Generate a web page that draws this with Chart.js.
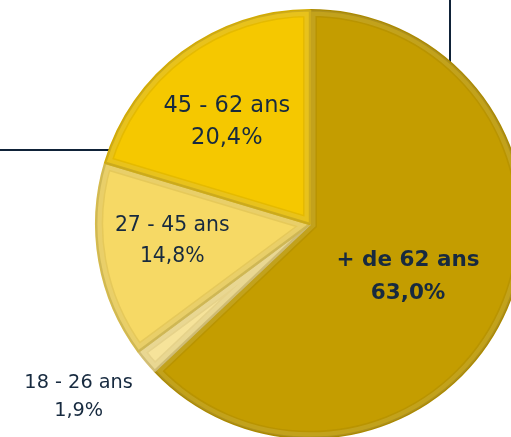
<!DOCTYPE html>
<html>
<head>
<meta charset="utf-8">
<script src="https://cdn.jsdelivr.net/npm/chart.js@4"></script>
<style>
  html, body { margin: 0; padding: 0; overflow: hidden; background: #fff; width: 511px; height: 437px; }
  #wrap { position: absolute; left: 0; top: 0; width: 640px; height: 460px; }
</style>
</head>
<body>
<div id="wrap"><canvas id="myChart"></canvas></div>
<script>
// data
const ageGroups = ['+ de 62 ans', '18 - 26 ans', '27 - 45 ans', '45 - 62 ans'];
const shares = [63.0, 1.9, 14.8, 20.4];
const shareLabels = ['63,0%', '1,9%', '14,8%', '20,4%'];

const sliceColors = ['#c49d00', '#f6e39a', '#f6d965', '#f5c800'];
const sliceBorders = ['#ab8900', '#d6c175', '#d6bb4c', '#d3ab00'];

// label spot: fraction of radius along mid angle, plus a nudge
const labelSpots = [
  { r: 0.52, dx: -4, dy: 9, size: 21.5, gap: 33, bold: true },
  { r: 1.34, dx: -12, dy: -11, size: 19.3, gap: 28, bold: false },
  { r: 0.64, dx: -3, dy: -7, size: 20.4, gap: 31, bold: false },
  { r: 0.62, dx: -4, dy: 4, size: 22.5, gap: 32, bold: false }
];

// soft bevel along the edge of each slice
const bevelPlugin = {
  id: 'bevel',
  afterDatasetsDraw(chart) {
    const ctx = chart.ctx;
    const arcs = chart.getDatasetMeta(0).data;
    arcs.forEach((arc) => {
      const p = arc.getProps(['x', 'y', 'startAngle', 'endAngle', 'outerRadius'], true);
      ctx.save();
      ctx.beginPath();
      ctx.moveTo(p.x, p.y);
      ctx.arc(p.x, p.y, p.outerRadius, p.startAngle, p.endAngle);
      ctx.closePath();
      ctx.clip();
      ctx.lineJoin = 'miter';
      ctx.lineWidth = 14;
      ctx.strokeStyle = 'rgba(90,70,0,0.10)';
      ctx.stroke();
      ctx.lineWidth = 11;
      ctx.strokeStyle = 'rgba(255,250,200,0.14)';
      ctx.stroke();
      ctx.restore();
    });
  }
};

const labelPlugin = {
  id: 'ageLabels',
  afterDatasetsDraw(chart) {
    const ctx = chart.ctx;
    const arcs = chart.getDatasetMeta(0).data;
    ctx.save();
    ctx.textAlign = 'center';
    ctx.textBaseline = 'middle';
    ctx.fillStyle = '#172a3f';
    arcs.forEach((arc, i) => {
      const p = arc.getProps(['x', 'y', 'startAngle', 'endAngle', 'outerRadius'], true);
      const mid = (p.startAngle + p.endAngle) / 2;
      const spot = labelSpots[i];
      const cx = p.x + Math.cos(mid) * p.outerRadius * spot.r + spot.dx;
      const cy = p.y + Math.sin(mid) * p.outerRadius * spot.r + spot.dy;
      ctx.font = (spot.bold ? 'bold ' : '') + spot.size + 'px "DejaVu Sans"';
      ctx.fillText(ageGroups[i], cx, cy - spot.gap / 2);
      ctx.fillText(shareLabels[i], cx, cy + spot.gap / 2);
    });
    ctx.restore();
  }
};

// navy frame lines behind the pie
const frameLines = {
  id: 'frameLines',
  beforeDatasetsDraw(chart) {
    const ctx = chart.ctx;
    ctx.save();
    ctx.strokeStyle = '#0f2238';
    ctx.lineWidth = 2;
    ctx.beginPath();
    ctx.moveTo(450, 0);
    ctx.lineTo(450, 70);
    ctx.moveTo(0, 150);
    ctx.lineTo(120, 150);
    ctx.stroke();
    ctx.restore();
  }
};

const data = {
  labels: ageGroups,
  datasets: [{
    data: shares,
    backgroundColor: sliceColors,
    borderColor: sliceBorders,
    borderWidth: 2.5
  }]
};

const config = {
  type: 'pie',
  data: data,
  options: {
    responsive: true,
    maintainAspectRatio: false,
    animation: false,
    layout: { padding: { left: 95, top: 9, right: 115, bottom: 21 } },
    plugins: {
      legend: { display: false },
      tooltip: { enabled: false }
    }
  },
  plugins: [frameLines, bevelPlugin, labelPlugin]
};

let canvasChart = document.getElementById('myChart');
const myChart = new Chart(canvasChart, config);
</script>
</body>
</html>
